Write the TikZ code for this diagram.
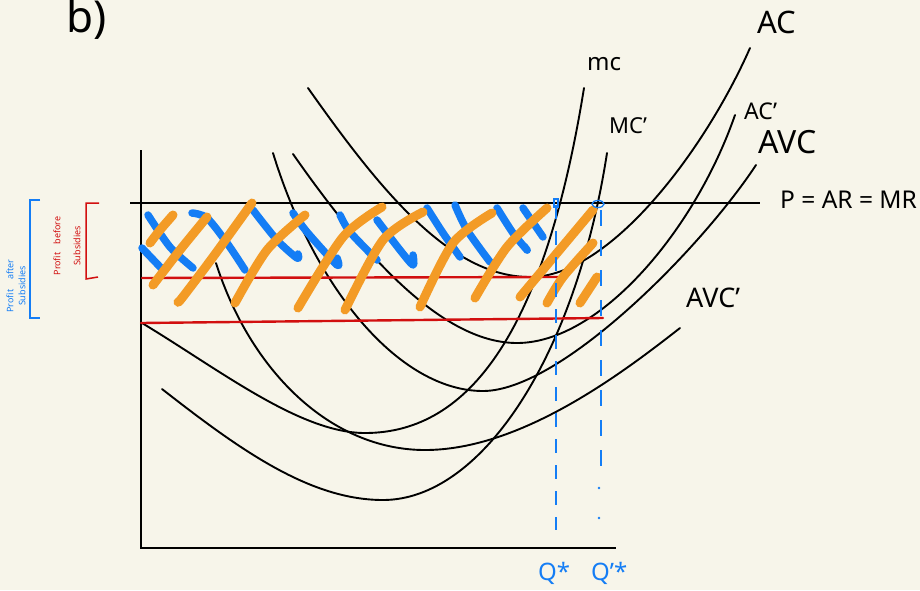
\documentclass[tikz,border=0pt]{standalone}
\usepackage{fontspec}
\setmainfont{Noto Sans}
\definecolor{bg}{RGB}{247,245,234}
\definecolor{hblue}{RGB}{20,125,245}
\definecolor{horange}{RGB}{243,155,38}
\definecolor{hred}{RGB}{210,15,15}
\tikzset{
  curve/.style={line width=1.9pt, line cap=round, black},
  axis/.style={line width=2.2pt, black},
  redline/.style={line width=2.4pt, hred, line cap=round},
  bluehatch/.style={line width=7.5pt, hblue, line cap=round, line join=round},
  orangehatch/.style={line width=9pt, horange, line cap=round, line join=round},
  qline/.style={line width=1.8pt, hblue},
  lbl/.style={inner sep=0pt, anchor=base west},
}
\begin{document}
\begin{tikzpicture}[x=1pt,y=-1pt]
\fill[bg] (0,0) rectangle (920,590);
\useasboundingbox (0,0) rectangle (920,590);

% axes
\draw[axis] (141,150) -- (141,548) -- (616,548);

% cost curves
\coordinate (acS) at (308,88);  \coordinate (acM) at (530,277);  \coordinate (acE) at (750,48);
\coordinate (acpS) at (293,154); \coordinate (acpM) at (517,343); \coordinate (acpE) at (735,115);
\coordinate (avcS) at (273,153); \coordinate (avcM) at (483,391); \coordinate (avcE) at (756,165);
\coordinate (mcS) at (142,323);  \coordinate (mcM) at (365,433);  \coordinate (mcE) at (584,88);
\coordinate (mcpS) at (162,389); \coordinate (mcpM) at (383,500); \coordinate (mcpE) at (607,153);
\coordinate (avcpS) at (216,263); \coordinate (avcpM) at (425,450); \coordinate (avcpE) at (680,328);

\draw[curve] (acS) .. controls (380,190) and (450,277) .. (acM) .. controls (610,277) and (705,150) .. (acE);
\draw[curve] (acpS) .. controls (360,250) and (440,343) .. (acpM) .. controls (600,343) and (695,230) .. (acpE);
\draw[curve] (avcS) .. controls (315,290) and (400,391) .. (avcM) .. controls (560,391) and (700,250) .. (avcE);
\draw[curve] (mcS) .. controls (220,370) and (300,433) .. (mcM) .. controls (470,433) and (545,330) .. (mcE);
\draw[curve] (mcpS) .. controls (240,450) and (310,500) .. (mcpM) .. controls (480,500) and (575,360) .. (mcpE);
\draw[curve] (avcpS) .. controls (250,370) and (330,450) .. (avcpM) .. controls (520,450) and (620,375) .. (avcpE);

% price line
\draw[axis, line width=2pt] (130,203) -- (760,203);

% red lines
\draw[redline] (142,278) -- (558,277);
\draw[redline] (141,323) -- (603,318);

% blue hatch
\draw[bluehatch] plot[smooth] coordinates {(148,215) (170,247) (193,268)};
\draw[bluehatch] plot[smooth] coordinates {(142,248) (163,270)};
\draw[bluehatch] plot[smooth] coordinates {(192,213) (207,218) (227,243) (245,270)};
\draw[bluehatch] plot[smooth] coordinates {(253,210) (277,240) (297,258) (298,254)};
\draw[bluehatch] plot[smooth] coordinates {(293,213) (307,232) (337,265) (337,258)};
\draw[bluehatch] plot[smooth] coordinates {(340,215) (350,232) (377,260)};
\draw[bluehatch] plot[smooth] coordinates {(377,220) (400,250) (413,265) (413,255)};
\draw[bluehatch] plot[smooth] coordinates {(427,208) (443,233) (460,257)};
\draw[bluehatch] plot[smooth] coordinates {(455,205) (467,230) (490,262)};
\draw[bluehatch] plot[smooth] coordinates {(497,208) (513,233) (527,250) (524,246)};
\draw[bluehatch] plot[smooth] coordinates {(523,208) (543,237)};

% orange hatch
\draw[orangehatch] plot[smooth] coordinates {(173,215) (160,230) (150,243)};
\draw[orangehatch] plot[smooth] coordinates {(207,217) (180,250) (153,285)};
\draw[orangehatch] plot[smooth] coordinates {(252,203) (213,257) (182,298) (178,302)};
\draw[orangehatch] plot[smooth] coordinates {(305,215) (267,250) (235,303)};
\draw[orangehatch] plot[smooth] coordinates {(382,207) (343,237) (298,308)};
\draw[orangehatch] plot[smooth] coordinates {(423,212) (383,240) (345,310)};
\draw[orangehatch] plot[smooth] coordinates {(492,213) (453,243) (420,307)};
\draw[orangehatch] plot[smooth] coordinates {(547,208) (507,247) (475,298)};
\draw[orangehatch] plot[smooth] coordinates {(593,210) (557,253) (520,297)};
\draw[orangehatch] plot[smooth] coordinates {(593,243) (563,277) (547,303)};
\draw[orangehatch] plot[smooth] coordinates {(597,277) (580,303)};

% quantity dashed lines
\draw[qline, dash pattern=on 14pt off 12pt] (556,205) -- (556,530);
\draw[qline, dash pattern=on 16pt off 14pt] (601,210) -- (601,470);
\fill[hblue] (599,488) circle (1.3pt);
\fill[hblue] (599,518) circle (1.3pt);
\draw[hblue, line width=1.3pt] (554,199) rectangle (558,207);
\draw[hblue, line width=1.3pt] (598,204) ellipse (6pt and 3.5pt);

% brackets
\draw[hblue, line width=1.5pt] (40,200) -- (30,200) -- (30,318) -- (40,318);
\draw[hred, line width=1.5pt] (99,203) -- (86,203) -- (86,279) -- (98,277);
\node[hblue, rotate=90, align=center, font=\fontsize{9}{12}\selectfont, inner sep=0pt] (lblA) at (16,286) {Profit\hspace{10pt}after\\Subsidies};
\node[hred, rotate=90, align=center, font=\fontsize{9}{20}\selectfont, inner sep=0pt] (lblB) at (67,246) {Profit\hspace{8pt}before\\Subsidies};

% labels
\node[lbl, font=\fontsize{44}{44}\selectfont] (b) at (66,32) {b)};
\node[lbl, font=\fontsize{24}{24}\selectfont] (mc) at (587,70) {mc};
\node[lbl, font=\fontsize{22}{22}\selectfont] (mcp) at (609,133) {MC'};
\node[lbl, font=\fontsize{31}{31}\selectfont] (ac) at (757,33) {AC};
\node[lbl, font=\fontsize{23}{23}\selectfont] (acp) at (744,119) {AC'};
\node[lbl, font=\fontsize{32}{32}\selectfont] (avc) at (758,153) {AVC};
\node[lbl, font=\fontsize{27}{27}\selectfont] (avcp) at (686,307) {AVC'};
\node[lbl, font=\fontsize{24.5}{24.5}\selectfont] (p) at (780,208) {P = AR = MR};
\node[lbl, hblue, font=\fontsize{24}{24}\selectfont] (q1) at (538,580) {Q*};
\node[lbl, hblue, font=\fontsize{24}{24}\selectfont] (q2) at (591,580) {Q'*};
\end{tikzpicture}
\end{document}
